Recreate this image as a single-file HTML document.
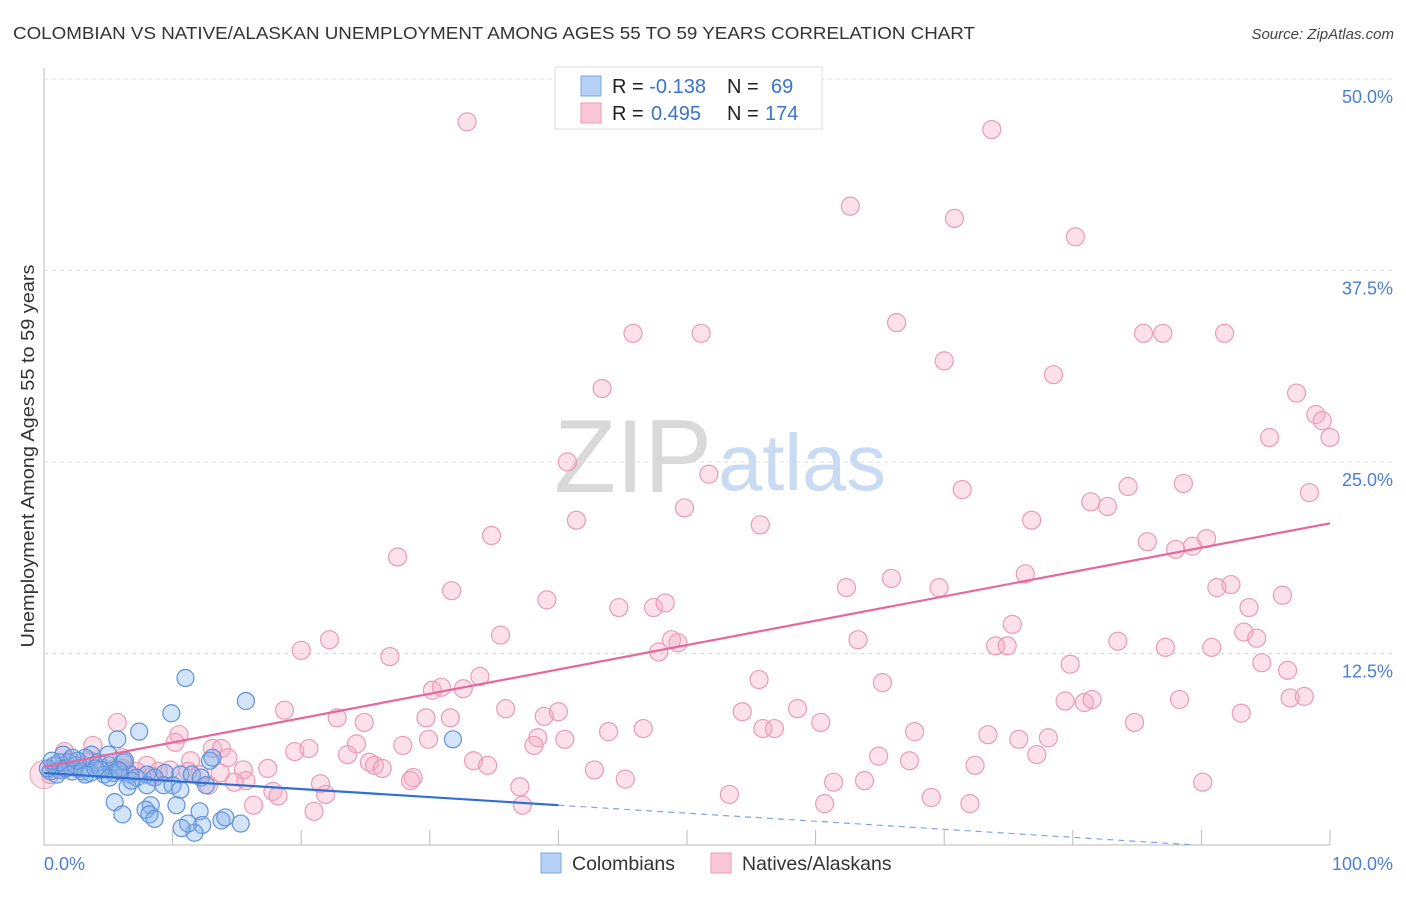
<!DOCTYPE html>
<html><head><meta charset="utf-8">
<style>
body{margin:0;background:#fff;width:1406px;height:892px;overflow:hidden;font-family:"Liberation Sans",sans-serif}
svg text{font-family:"Liberation Sans",sans-serif}
</style></head>
<body>
<svg id="chart" width="1406" height="892" viewBox="0 0 1406 892" xmlns="http://www.w3.org/2000/svg">
<text x="13" y="39" font-size="17.5" fill="#333" textLength="962" lengthAdjust="spacingAndGlyphs">COLOMBIAN VS NATIVE/ALASKAN UNEMPLOYMENT AMONG AGES 55 TO 59 YEARS CORRELATION CHART</text>
<text x="1394" y="39" font-size="15" fill="#444" text-anchor="end" font-style="italic">Source: ZipAtlas.com</text>
<g>
<text x="554" y="492" font-size="104" font-family="Liberation Serif,serif" fill="#d9d9d9" textLength="158" lengthAdjust="spacingAndGlyphs">ZIP</text>
<text x="718" y="490" font-size="80" fill="#c8dbf2" textLength="168" lengthAdjust="spacingAndGlyphs">atlas</text>
</g>
<g id="grid"></g>
<g id="axes"></g>
<g id="pts"></g>
<g id="trends"></g>
<text transform="translate(34,456) rotate(-90)" font-size="18" fill="#333" text-anchor="middle" textLength="383" lengthAdjust="spacingAndGlyphs">Unemployment Among Ages 55 to 59 years</text>
<text x="44" y="870" font-size="18" fill="#4a7fd4">0.0%</text>
<text x="1393" y="870" font-size="18" fill="#4a7fd4" text-anchor="end">100.0%</text>
<g>
<rect x="555" y="67" width="267" height="62" fill="#fff" stroke="#ddd"/>
<rect x="581" y="76" width="20" height="20" fill="#b5d0f3" stroke="#7aa7e3"/>
<rect x="581" y="103" width="20" height="20" fill="#fbc7d6" stroke="#ee9ab4"/>
<text x="612" y="93" font-size="20" fill="#222">R = <tspan fill="#3a73d0">-0.138</tspan><tspan x="727">N = </tspan><tspan fill="#3a73d0" x="771">69</tspan></text>
<text x="612" y="120" font-size="20" fill="#222">R = <tspan fill="#3a73d0" x="651">0.495</tspan><tspan x="727">N = </tspan><tspan fill="#3a73d0" x="765">174</tspan></text>
</g>
<g>
<rect x="541" y="853" width="20" height="20" fill="#b5d0f3" stroke="#7aa7e3"/>
<text x="572" y="870" font-size="19.5" fill="#333">Colombians</text>
<rect x="711" y="853" width="20" height="20" fill="#fbc7d6" stroke="#ee9ab4"/>
<text x="742" y="870" font-size="19.5" fill="#333">Natives/Alaskans</text>
</g>
</svg>
<script>
const yTicks=[12.5,25,37.5,50];
const yTickLabels=["12.5%","25.0%","37.5%","50.0%"];
const xTicks=[10,20,30,40,50,60,70,80,90,100];
const pinkX=[59.4,32.9,73.7,62.7,70.8,80.2,66.3,45.8,51.1,85.5,87.0,91.8,70.0,43.4,78.5,97.4,98.9,99.4,95.3,100,40.7,51.7,71.4,84.3,88.6,81.4,82.7,98.4,41.4,49.8,55.7,76.8,34.8,85.8,90.4,89.3,88.0,27.5,76.3,65.9,69.6,62.4,91.2,92.3,31.7,39.1,44.7,47.4,48.3,93.7,96.3,22.2,35.5,75.3,93.3,94.3,63.3,83.5,48.8,49.3,74.0,74.9,47.8,87.2,20.0,26.9,90.8,94.7,79.8,96.7,33.9,30.2,30.9,32.6,65.2,55.6,96.9,98.0,88.3,79.4,80.9,81.5,58.6,35.9,18.7,54.3,93.1,22.8,29.7,31.6,38.9,40.0,84.8,60.4,55.9,43.9,46.6,56.8,67.7,24.9,10.5,10.2,73.4,78.1,38.4,75.8,29.9,24.3,40.5,27.9,38.1,13.1,13.8,5.7,19.5,20.6,23.6,64.9,77.2,67.3,33.4,11.4,14.3,34.5,25.3,25.7,26.3,8.0,15.5,17.4,42.8,72.4,15.7,8.4,28.7,28.5,45.2,63.8,6.1,61.4,21.5,37.0,90.1,17.8,18.2,21.9,53.3,69.0,72.0,60.7,37.2,16.3,21.0,3.8,1.6,0.9,1.4,2.6,4.6,6.1,6.5,7.2,8.9,9.8,11.2,12.1,12.8,13.7,14.8,3.6,2.0,0.5,5.5];
const pinkY=[50.1,47.2,46.7,41.7,40.9,39.7,34.1,33.4,33.4,33.4,33.4,33.4,31.6,29.8,30.7,29.5,28.1,27.7,26.6,26.6,25.0,24.2,23.2,23.4,23.6,22.4,22.1,23.0,21.2,22.0,20.9,21.2,20.2,19.8,20.0,19.5,19.3,18.8,17.7,17.4,16.8,16.8,16.8,17.0,16.6,16.0,15.5,15.5,15.8,15.5,16.3,13.4,13.7,14.4,13.9,13.5,13.4,13.3,13.4,13.2,13.0,13.0,12.6,12.9,12.7,12.3,12.9,11.9,11.8,11.4,11.0,10.1,10.3,10.2,10.6,10.8,9.6,9.7,9.5,9.4,9.3,9.5,8.9,8.9,8.8,8.7,8.6,8.3,8.3,8.3,8.4,8.7,8.0,8.0,7.6,7.4,7.6,7.6,7.4,8.0,7.2,6.7,7.2,7.0,7.0,6.9,6.9,6.6,6.9,6.5,6.5,6.3,6.3,8.0,6.1,6.3,5.9,5.8,5.9,5.5,5.5,5.5,5.7,5.2,5.4,5.2,5.0,5.2,4.9,5.0,4.9,5.2,4.2,4.5,4.4,4.2,4.3,4.2,5.7,4.1,4.0,3.8,4.1,3.5,3.2,3.3,3.3,3.1,2.7,2.7,2.6,2.6,2.2,6.5,6.1,5.2,4.9,5.0,5.0,5.0,4.8,4.8,4.8,4.9,4.8,4.6,3.9,4.7,4.1,5.5,5.5,4.6,5.0];
const blueX=[11.0,15.7,9.9,7.4,5.7,31.8,3.7,1.5,3.2,1.9,2.5,4.2,5.1,6.2,1.2,0.5,1.0,2.2,3.0,3.6,4.7,5.4,6.7,7.2,8.0,8.6,9.4,10.6,11.5,12.2,12.9,13.1,9.3,10.0,8.0,6.5,10.6,12.6,8.3,5.5,7.9,6.1,8.2,8.6,10.3,12.1,12.3,13.8,14.1,15.3,11.7,11.2,10.7,0.8,1.2,4.4,5.1,6.8,5.9,3.2,4.0,2.6,1.7,2.2,5.0,6.3,0.3,0.6,5.8];
const blueY=[10.9,9.4,8.6,7.4,6.9,6.9,5.9,5.9,5.7,5.4,5.2,5.4,5.2,5.4,4.9,4.8,4.6,4.8,4.8,4.7,4.6,4.7,4.6,4.4,4.6,4.4,4.7,4.6,4.6,4.4,5.5,5.7,3.9,3.9,3.9,3.8,3.6,3.9,2.6,2.8,2.3,2.0,2.0,1.7,2.6,2.2,1.3,1.6,1.8,1.4,0.8,1.4,1.1,5.2,5.4,4.9,4.4,4.2,4.8,4.6,5.0,5.5,5.0,5.7,5.9,5.5,5.0,5.5,4.9];
const pinkTrend=[5.1,21.0];   // y at x=0, x=100
const blueTrend=[4.7,2.6];    // y at x=0, x=40 (solid end)
const blueSolidEnd=40;

const X0=44,X1=1330,Y0=845,Y50=79;
const sx=v=>X0+(X1-X0)*v/100;
const sy=v=>Y0-(Y0-Y50)*v/50;
const NS="http://www.w3.org/2000/svg";
function mk(tag,attrs,parent){const e=document.createElementNS(NS,tag);for(const k in attrs)e.setAttribute(k,attrs[k]);parent.appendChild(e);return e;}
const grid=document.getElementById('grid'),axes=document.getElementById('axes'),pts=document.getElementById('pts'),tr=document.getElementById('trends');
yTicks.forEach((t,i)=>{
  const l=mk('line',{x1:X0,x2:1394,y1:sy(t),y2:sy(t),stroke:'#ddd','stroke-dasharray':'4 4'},grid);
  
  
  const tx=mk('text',{x:1393,y:sy(t)+24,'font-size':18,fill:'#4a7fd4','text-anchor':'end'},grid);
  tx.textContent=yTickLabels[i];
  
  
});
const ya=mk('line',{x1:X0,x2:X0,y1:68,y2:Y0,stroke:'#bbb'},axes);


const xa=mk('line',{x1:X0,x2:X1,y1:Y0,y2:Y0,stroke:'#bbb'},axes);


xTicks.forEach(t=>{
  const l=mk('line',{x1:sx(t),x2:sx(t),y1:Y0-15,y2:Y0,stroke:'#bbb'},axes);
  
  
});
const big=mk('circle',{cx:sx(0),cy:sy(4.6),r:14,fill:'rgba(244,160,185,0.3)',stroke:'#eca0b8'},pts);


pinkX.forEach((x,i)=>{
  const c=mk('circle',{cx:sx(x),cy:sy(pinkY[i]),r:9,fill:'rgba(246,170,195,0.35)',stroke:'#eb9bb5','stroke-width':1.2},pts);
  
  
});
blueX.forEach((x,i)=>{
  const c=mk('circle',{cx:sx(x),cy:sy(blueY[i]),r:8.5,fill:'rgba(130,175,235,0.35)',stroke:'#5f92da','stroke-width':1.2},pts);
  
  
});
const pl=mk('line',{x1:sx(0),y1:sy(pinkTrend[0]),x2:sx(100),y2:sy(pinkTrend[1]),stroke:'#e7679a','stroke-width':2.2},tr);


const slope=(blueTrend[1]-blueTrend[0])/blueSolidEnd;
const bl=mk('line',{x1:sx(0),y1:sy(blueTrend[0]),x2:sx(blueSolidEnd),y2:sy(blueTrend[1]),stroke:'#2f6fd6','stroke-width':2.2},tr);


const xEnd=Math.min(100,-blueTrend[0]/slope);
const bd=mk('line',{x1:sx(blueSolidEnd),y1:sy(blueTrend[1]),x2:sx(xEnd),y2:sy(blueTrend[0]+slope*xEnd),stroke:'#7fa6e3','stroke-width':1.2,'stroke-dasharray':'6 5'},tr);


</script>
</body></html>
